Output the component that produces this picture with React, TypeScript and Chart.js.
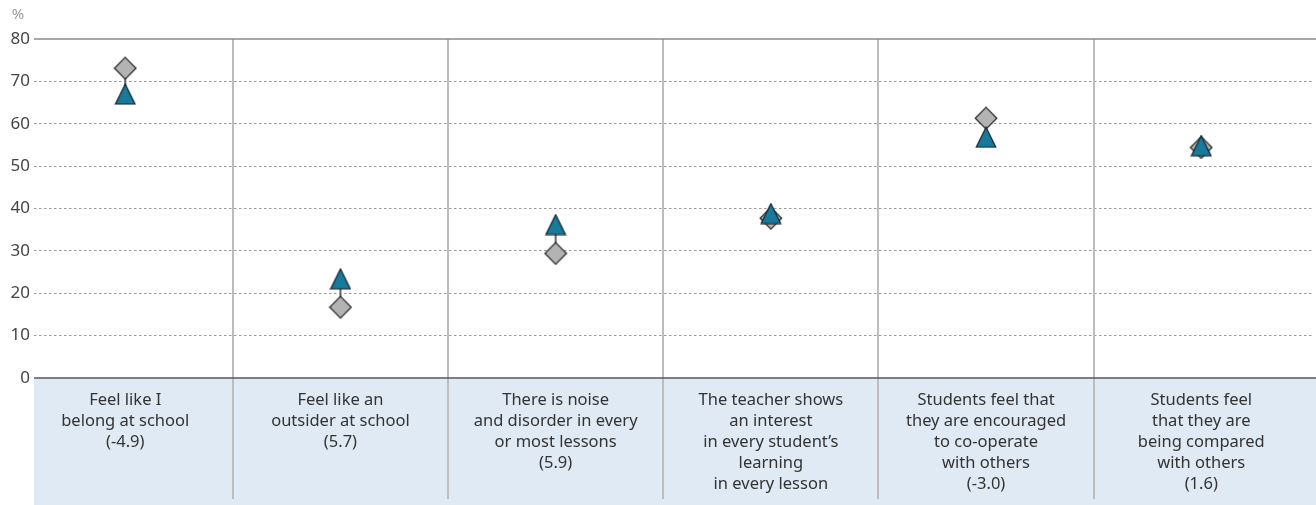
import React, { useEffect, useRef } from 'react';
import { Chart, registerables } from 'chart.js';

Chart.register(...registerables);

const categories: string[][] = [
  ['Feel like I', 'belong at school', '(-4.9)'],
  ['Feel like an', 'outsider at school', '(5.7)'],
  ['There is noise', 'and disorder in every', 'or most lessons', '(5.9)'],
  ['The teacher shows', 'an interest', 'in every student\u2019s', 'learning', 'in every lesson'],
  ['Students feel that', 'they are encouraged', 'to co-operate', 'with others', '(-3.0)'],
  ['Students feel', 'that they are', 'being compared', 'with others', '(1.6)'],
];
const triangleValues = [67.0, 23.4, 36.2, 38.8, 56.8, 54.8];
const diamondValues = [73.1, 16.7, 29.4, 37.7, 61.3, 54.4];
const yMin = 0;
const yMax = 80;
const yStep = 10;
const unitLabel = '%';

const FONT = '"Noto Sans", "DejaVu Sans", sans-serif';

function makeDiamond(): HTMLCanvasElement {
  const c = document.createElement('canvas');
  c.width = 24;
  c.height = 24;
  const g = c.getContext('2d')!;
  g.beginPath();
  g.moveTo(12, 1.2);
  g.lineTo(22.8, 12);
  g.lineTo(12, 22.8);
  g.lineTo(1.2, 12);
  g.closePath();
  g.fillStyle = '#b3b3b3';
  g.fill();
  g.strokeStyle = '#262626';
  g.lineWidth = 1.2;
  g.stroke();
  return c;
}

function makeTriangle(): HTMLCanvasElement {
  const c = document.createElement('canvas');
  c.width = 22;
  c.height = 22;
  const g = c.getContext('2d')!;
  g.beginPath();
  g.moveTo(11, 1);
  g.lineTo(20.8, 21);
  g.lineTo(1.2, 21);
  g.closePath();
  g.fillStyle = '#177a9c';
  g.fill();
  g.strokeStyle = '#16232b';
  g.lineWidth = 1.2;
  g.stroke();
  return c;
}

const decorPlugin = {
  id: 'decor',
  beforeDraw(chart: any) {
    const { ctx, chartArea } = chart;
    ctx.save();
    ctx.fillStyle = '#e0eaf4';
    ctx.fillRect(chartArea.left, chartArea.bottom + 1, chart.width - chartArea.left, 126);
    ctx.restore();
  },
  beforeDatasetsDraw(chart: any) {
    const { ctx, chartArea, scales } = chart;
    const xs = scales.x;
    const ys = scales.y;
    ctx.save();
    ctx.strokeStyle = '#bdbdbd';
    ctx.lineWidth = 2;
    for (let i = 0; i < categories.length - 1; i++) {
      const x = Math.round(xs.getPixelForValue(i + 0.5));
      ctx.beginPath();
      ctx.moveTo(x, ys.getPixelForValue(yMax));
      ctx.lineTo(x, 499);
      ctx.stroke();
    }
    const yTop = ys.getPixelForValue(yMax);
    ctx.strokeStyle = '#8a8a8a';
    ctx.lineWidth = 1.6;
    ctx.beginPath();
    ctx.moveTo(chartArea.left, yTop);
    ctx.lineTo(chart.width, yTop);
    ctx.stroke();
    const y0 = ys.getPixelForValue(yMin);
    ctx.strokeStyle = '#555555';
    ctx.lineWidth = 1.6;
    ctx.beginPath();
    ctx.moveTo(chartArea.left, y0);
    ctx.lineTo(chart.width, y0);
    ctx.stroke();
    const m0 = chart.getDatasetMeta(0).data;
    const m1 = chart.getDatasetMeta(1).data;
    ctx.strokeStyle = '#666666';
    ctx.lineWidth = 2;
    for (let i = 0; i < m0.length; i++) {
      ctx.beginPath();
      ctx.moveTo(m0[i].x, m0[i].y);
      ctx.lineTo(m1[i].x, m1[i].y);
      ctx.stroke();
    }
    ctx.restore();
  },
  afterDraw(chart: any) {
    const { ctx, scales } = chart;
    const xs = scales.x;
    ctx.save();
    ctx.fillStyle = '#333333';
    ctx.font = `16.5px ${FONT}`;
    ctx.textAlign = 'center';
    ctx.textBaseline = 'middle';
    categories.forEach((lines, i) => {
      const x = xs.getPixelForValue(i);
      lines.forEach((t, j) => {
        ctx.fillText(t, x, 400 + j * 21);
      });
    });
    ctx.fillStyle = '#9a9a9a';
    ctx.font = `15px ${FONT}`;
    ctx.fillText(unitLabel, 18, 15);
    ctx.restore();
  },
};

export default function App() {
  const ref = useRef<HTMLCanvasElement | null>(null);
  useEffect(() => {
    if (!ref.current) return;
    const diamond = makeDiamond();
    const triangle = makeTriangle();
    const chart = new Chart(ref.current, {
      type: 'scatter',
      data: {
        datasets: [
          {
            label: 'Triangle',
            data: triangleValues.map((v, i) => ({ x: i, y: v })),
            pointStyle: triangle as any,
            pointRadius: 11,
            showLine: false,
          },
          {
            label: 'Diamond',
            data: diamondValues.map((v, i) => ({ x: i, y: v })),
            pointStyle: diamond as any,
            pointRadius: 12,
            showLine: false,
          },
        ],
      },
      options: {
        animation: false,
        responsive: false,
        devicePixelRatio: 1,
        layout: { autoPadding: false, padding: { left: 0, top: 39, right: 2, bottom: 127 } },
        plugins: { legend: { display: false }, tooltip: { enabled: false } },
        scales: {
          x: {
            type: 'linear',
            display: false,
            min: -0.424,
            max: 5.524,
          },
          y: {
            min: yMin,
            max: yMax,
            afterFit(scale: any) {
              scale.width = 34;
            },
            ticks: {
              stepSize: yStep,
              padding: 4,
              color: '#444444',
              font: { size: 17, family: FONT },
            },
            grid: {
              drawTicks: false,
              color: (c: any) =>
                c.tick && (c.tick.value === yMin || c.tick.value === yMax) ? 'rgba(0,0,0,0)' : '#9a9a9a',
              lineWidth: 1,
            },
            border: { display: false, dash: [2.5, 2.5] },
          },
        },
      },
      plugins: [decorPlugin],
    });
    return () => chart.destroy();
  }, []);
  return (
    <div style={{ position: 'fixed', left: 0, top: 0, width: 1316, height: 505, background: '#fff' }}>
      <canvas ref={ref} width={1316} height={505} style={{ display: 'block' }} />
    </div>
  );
}
